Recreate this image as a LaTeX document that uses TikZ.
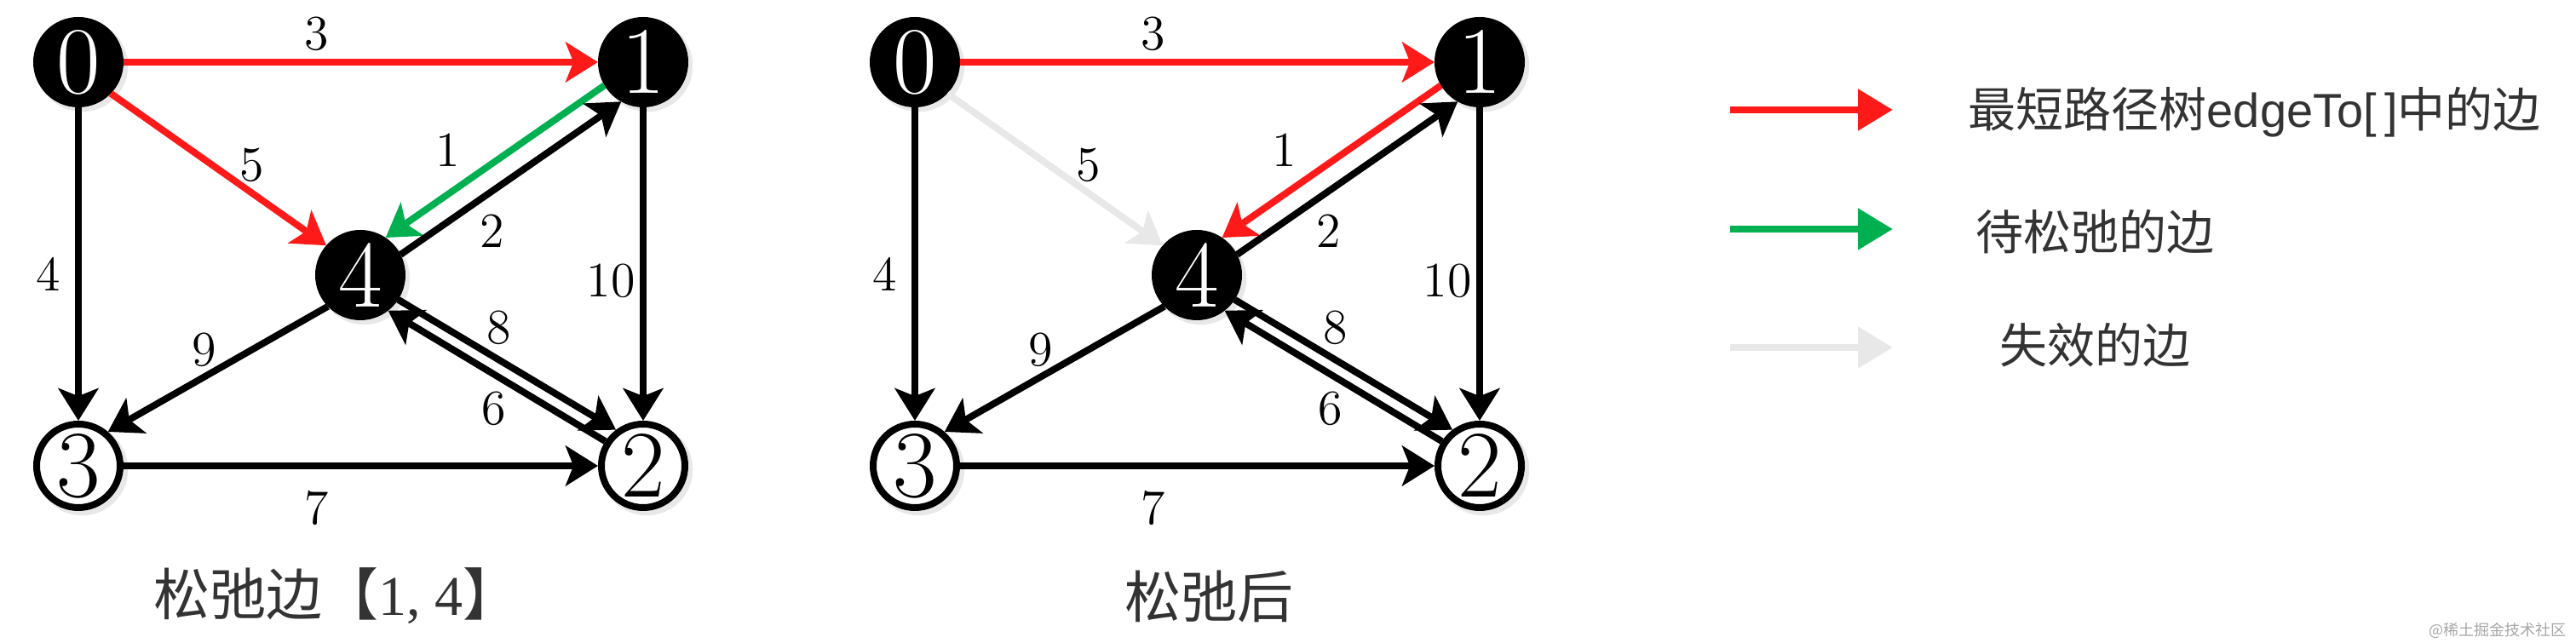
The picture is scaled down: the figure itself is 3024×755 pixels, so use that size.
\documentclass[tikz,border=0pt]{standalone}
\usepackage{fontspec}
\newfontfamily\cjk{Noto Sans CJK SC}
\newfontfamily\lsans{Liberation Sans}
\newfontfamily\lserif{Liberation Serif}
\usetikzlibrary{arrows.meta,shadows}
\definecolor{myred}{HTML}{FF1A1A}
\definecolor{mygreen}{HTML}{00B050}
\definecolor{mygrey}{HTML}{E8E8E8}
\definecolor{txt}{HTML}{333333}
\begin{document}
\begin{tikzpicture}[x=0.25pt,y=-0.25pt,
  >={Stealth[length=9.5pt,width=11.75pt,inset=2.3pt]},
  vtx/.style={circle,line width=2pt,draw=black,minimum size=24.5pt,inner sep=0pt,
    font=\fontsize{28}{30}\selectfont,
    drop shadow={shadow xshift=1pt,shadow yshift=-1pt,shadow scale=1.1,fill=black!9,opacity=1}},
  vb/.style={vtx,fill=black,text=white},
  vw/.style={vtx,fill=white,text=black},
  edg/.style={line width=2pt,->},
  wl/.style={font=\fontsize{14.5}{16}\selectfont,inner sep=0pt},
  leg/.style={line width=2.2pt,-{Triangle[length=10.25pt,width=11.75pt]}},
  legtxt/.style={anchor=west,inner sep=0pt,text=txt,font=\cjk\fontsize{14}{16}\selectfont},
  captxt/.style={anchor=west,inner sep=0pt,text=txt,font=\cjk\fontsize{16.5}{18}\selectfont}]
\useasboundingbox (0,0) rectangle (3024,755);
% ---------- left graph ----------
\node[vb] (a0) at (92,73) {0};
\node[vb] (a1) at (755,73) {1};
\node[vb] (a4) at (423,323) {4};
\node[vw] (a3) at (92,547) {3};
\node[vw] (a2) at (755,547) {2};
\draw[edg,myred] (a0.0) -- (a1.180);
\draw[edg,myred] (a0.-44) -- (a4.139);
\draw[edg,mygreen] (a1.211) -- (a4.56);
\draw[edg] (a4.27) -- (a1.241);
\draw[edg] (a0.-90) -- (a3.90);
\draw[edg] (a1.-90) -- (a2.90);
\draw[edg] (a4.224) -- (a3.49);
\draw[edg] (a4.-33) -- (a2.127);
\draw[edg] (a2.147) -- (a4.-52);
\draw[edg] (a3.0) -- (a2.180);
\node[wl] (aw3) at (372,40) {3};
\node[wl] (aw5) at (296,194) {5};
\node[wl] (aw1) at (526,176) {1};
\node[wl] (aw2) at (578,271) {2};
\node[wl] (aw4) at (57,322) {4};
\node[wl] (aw10) at (717,330) {10};
\node[wl] (aw9) at (240,411) {9};
\node[wl] (aw8) at (586,385) {8};
\node[wl] (aw6) at (580,480) {6};
\node[wl] (aw7) at (372,597) {7};
\node[captxt] (capa) at (180,700) {松弛边【{\lserif 1, 4}】};
% ---------- right graph ----------
\begin{scope}[xshift=245.5pt]
\node[vb] (b0) at (92,73) {0};
\node[vb] (b1) at (755,73) {1};
\node[vb] (b4) at (423,323) {4};
\node[vw] (b3) at (92,547) {3};
\node[vw] (b2) at (755,547) {2};
\draw[edg,myred] (b0.0) -- (b1.180);
\draw[edg,mygrey] (b0.-44) -- (b4.139);
\draw[edg,myred] (b1.211) -- (b4.56);
\draw[edg] (b4.27) -- (b1.241);
\draw[edg] (b0.-90) -- (b3.90);
\draw[edg] (b1.-90) -- (b2.90);
\draw[edg] (b4.224) -- (b3.49);
\draw[edg] (b4.-33) -- (b2.127);
\draw[edg] (b2.147) -- (b4.-52);
\draw[edg] (b3.0) -- (b2.180);
\node[wl] (bw3) at (372,40) {3};
\node[wl] (bw5) at (296,194) {5};
\node[wl] (bw1) at (526,176) {1};
\node[wl] (bw2) at (578,271) {2};
\node[wl] (bw4) at (57,322) {4};
\node[wl] (bw10) at (717,330) {10};
\node[wl] (bw9) at (240,411) {9};
\node[wl] (bw8) at (586,385) {8};
\node[wl] (bw6) at (580,480) {6};
\node[wl] (bw7) at (372,597) {7};
\end{scope}
\node[captxt] (capb) at (1320,700) {松弛后};
% ---------- legend ----------
\coordinate (l1s) at (2031,129);
\coordinate (l1e) at (2222,129);
\coordinate (l2s) at (2031,269);
\coordinate (l2e) at (2222,269);
\coordinate (l3s) at (2031,408);
\coordinate (l3e) at (2222,408);
\draw[leg,myred] (l1s) -- (l1e);
\draw[leg,mygreen] (l2s) -- (l2e);
\draw[leg,mygrey] (l3s) -- (l3e);
\node[legtxt] (t1) at (2310,132) {最短路径树{\lsans edgeTo[\,]}中的边};
\node[legtxt] (t2) at (2319,272) {待松弛的边};
\node[legtxt] (t3) at (2347,405) {失效的边};
\node[anchor=east,inner sep=0pt,text=black!35,font=\cjk\fontsize{4.5}{5}\selectfont] (wm) at (3013,740) {@稀土掘金技术社区};
\end{tikzpicture}
\end{document}
